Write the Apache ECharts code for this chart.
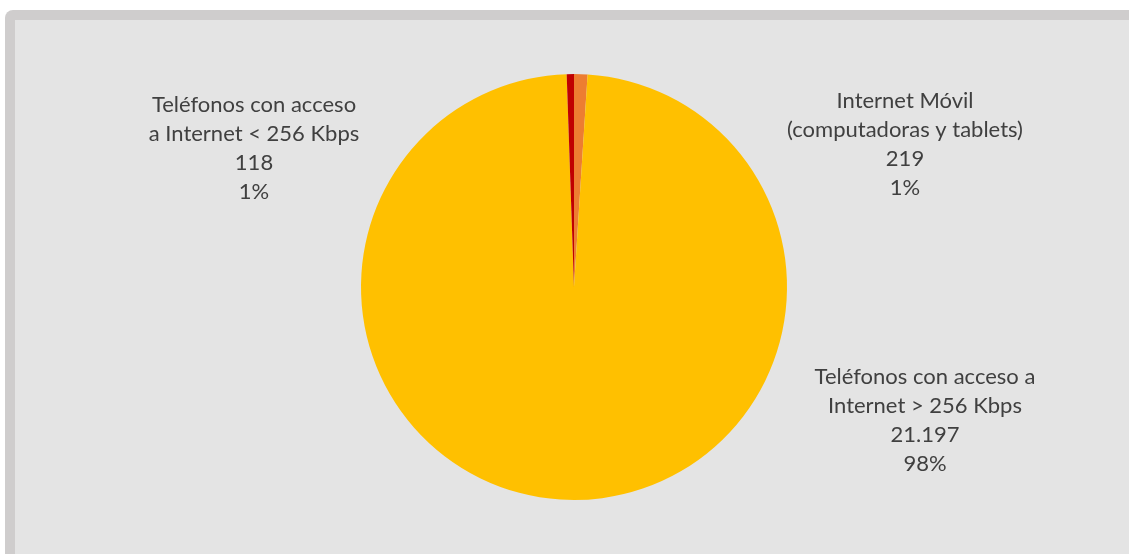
<!DOCTYPE html>
<html>
<head>
<meta charset="utf-8">
<script src="https://cdn.jsdelivr.net/npm/echarts@6/dist/echarts.min.js"></script>
<style>
  html, body { margin: 0; padding: 0; background: #ffffff; }
  #frame { position: absolute; left: 5px; top: 10px; width: 1130px; height: 550px; background: #cfcdcd; border-top-left-radius: 8px; }
  #inner { position: absolute; left: 15px; top: 20px; width: 1120px; height: 540px; background: #e4e4e4; }
  #chart { position: absolute; left: 0; top: 0; width: 1129px; height: 554px; }
</style>
</head>
<body>
<div id="frame"></div>
<div id="inner"></div>
<div id="chart"></div>
<script>
const categories = [
  'Internet Móvil\n(computadoras y tablets)',
  'Teléfonos con acceso a\nInternet > 256 Kbps',
  'Teléfonos con acceso\na Internet < 256 Kbps'
];
const values = [219, 21197, 118];
const colors = ['#ED7D31', '#FFC000', '#C00000'];
const labelSpots = [[905, 144], [925, 420], [254, 148]];

function fmt(n) {
  return String(n).replace(/\B(?=(\d{3})+(?!\d))/g, '.');
}

const chart = echarts.init(document.getElementById('chart'));
chart.setOption({
  backgroundColor: 'transparent',
  animation: false,
  series: [{
    type: 'pie',
    center: [574, 287],
    radius: 213,
    startAngle: 90,
    clockwise: true,
    percentPrecision: 0,
    data: categories.map((c, i) => ({ name: c, value: values[i], itemStyle: { color: colors[i] } })),
    itemStyle: { borderWidth: 0 },
    label: {
      show: true,
      position: 'outside',
      formatter: p => p.name + '\n' + fmt(p.value) + '\n' + p.percent + '%',
      color: '#404040',
      fontFamily: 'Lato',
      fontSize: 22,
      lineHeight: 29,
      align: 'center'
    },
    labelLine: { show: false },
    labelLayout: function (params) {
      const s = labelSpots[params.dataIndex];
      return { x: s[0], y: s[1], align: 'center', verticalAlign: 'middle', hideOverlap: false };
    }
  }]
});
</script>
</body>
</html>
